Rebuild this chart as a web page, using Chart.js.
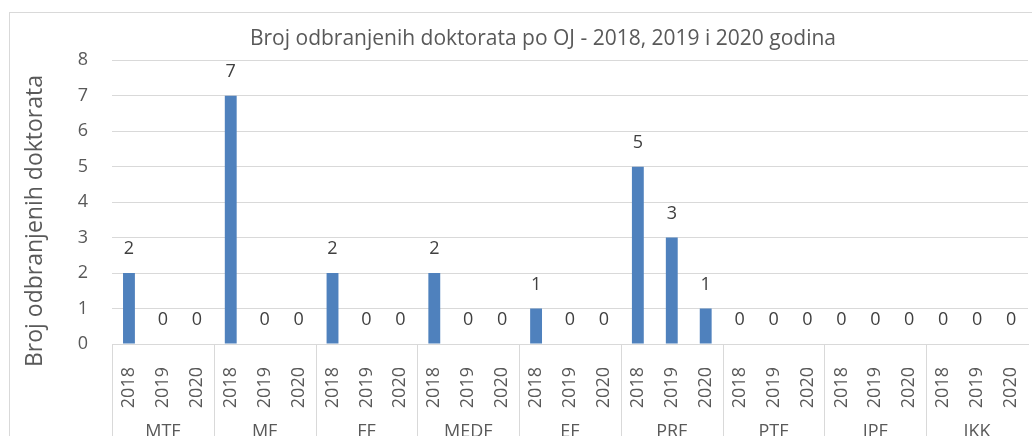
<!DOCTYPE html>
<html>
<head>
<meta charset="utf-8">
<script src="https://cdn.jsdelivr.net/npm/chart.js@4/dist/chart.umd.min.js"></script>
<style>
  html, body { margin: 0; padding: 0; background: #fff; }
  #wrap { position: relative; width: 1032px; height: 436px; overflow: hidden; }
  #frame { position: absolute; left: 9px; top: 12px; width: 1100px; height: 500px; border: 1px solid #d9d9d9; }
  canvas { position: absolute; left: 0; top: 0; }
</style>
</head>
<body>
<div id="wrap">
  <div id="frame"></div>
  <canvas id="chart" width="1086" height="436"></canvas>
</div>
<script>
// faculties and years
const groups = ["MTF", "MF", "FF", "MEDF", "EF", "PRF", "PTF", "IPF", "IKK"];
const years = ["2018", "2019", "2020"];

// defended doctorates per faculty, by year
const values2018 = [2, 7, 2, 2, 1, 5, 0, 0, 0];
const values2019 = [0, 0, 0, 0, 0, 3, 0, 0, 0];
const values2020 = [0, 0, 0, 0, 0, 1, 0, 0, 0];

const yMin = 0;
const yMax = 8;
const yStep = 1;

const byYear = [values2018, values2019, values2020];
const labels = groups.flatMap(() => years);
const values = groups.flatMap((g, gi) => byYear.map(v => v[gi]));

const FONT = "'Open Sans', sans-serif";
const TEXT = "#595959";
const GRID = "#d9d9d9";
const Y_TITLE = "Broj odbranjenih doktorata";

// value labels above each bar
const valueLabels = {
  id: "valueLabels",
  afterDatasetsDraw(chart) {
    const ctx = chart.ctx;
    const meta = chart.getDatasetMeta(0);
    ctx.save();
    ctx.font = "18px " + FONT;
    ctx.fillStyle = "#404040";
    ctx.textAlign = "center";
    ctx.textBaseline = "alphabetic";
    meta.data.forEach((bar, i) => {
      ctx.fillText(String(values[i]), bar.x, bar.y - 19);
    });
    ctx.restore();
  }
};

// second level of the category axis: faculty names and separators,
// plus the y axis title (Excel centres it a bit lower than the plot)
const groupAxis = {
  id: "groupAxis",
  afterDraw(chart) {
    const ctx = chart.ctx;
    const x = chart.scales.x;
    const area = chart.chartArea;
    const n = years.length;
    ctx.save();
    ctx.strokeStyle = GRID;
    ctx.lineWidth = 1;
    groups.forEach((g, gi) => {
      const first = gi * n;
      const last = first + n - 1;
      const left = gi === 0 ? area.left
        : (x.getPixelForValue(first - 1) + x.getPixelForValue(first)) / 2;
      ctx.beginPath();
      ctx.moveTo(Math.round(left) + 0.5, area.bottom);
      ctx.lineTo(Math.round(left) + 0.5, chart.height);
      ctx.stroke();
      const mid = (x.getPixelForValue(first) + x.getPixelForValue(last)) / 2;
      ctx.font = "18px " + FONT;
      ctx.fillStyle = TEXT;
      ctx.textAlign = "center";
      ctx.textBaseline = "middle";
      ctx.fillText(g, mid, 432);
    });

    ctx.translate(35, 221);
    ctx.rotate(-Math.PI / 2);
    ctx.font = "23px " + FONT;
    ctx.fillStyle = TEXT;
    ctx.textAlign = "center";
    ctx.textBaseline = "middle";
    ctx.fillText(Y_TITLE, 0, 0);
    ctx.restore();
  }
};

new Chart(document.getElementById("chart"), {
  type: "bar",
  data: {
    labels: labels,
    datasets: [{
      data: values,
      backgroundColor: "#4f81bd",
      categoryPercentage: 1,
      barPercentage: 0.35
    }]
  },
  options: {
    responsive: false,
    animation: false,
    layout: { padding: 0 },
    plugins: {
      legend: { display: false },
      tooltip: { enabled: false },
      title: {
        display: true,
        text: "Broj odbranjenih doktorata po OJ - 2018, 2019 i 2020 godina",
        color: TEXT,
        font: { family: FONT, size: 21, weight: "normal" },
        padding: { top: 26, bottom: 9 }
      }
    },
    scales: {
      x: {
        grid: { display: false },
        border: { display: true, color: GRID },
        ticks: {
          color: TEXT,
          font: { family: FONT, size: 18 },
          minRotation: 90,
          maxRotation: 90,
          autoSkip: false,
          padding: 15
        },
        afterFit(scale) { scale.height = 92; }
      },
      y: {
        min: yMin,
        max: yMax,
        grid: { color: GRID, drawTicks: false },
        border: { display: false },
        ticks: {
          stepSize: yStep,
          color: TEXT,
          font: { family: FONT, size: 18 },
          padding: 24
        },
        afterFit(scale) { scale.width = 112; }
      },
      // empty right margin (the chart frame runs past the window edge)
      yRight: {
        position: "right",
        min: yMin,
        max: yMax,
        grid: { display: false },
        border: { display: false },
        ticks: { display: false },
        afterFit(scale) { scale.width = 58; }
      }
    }
  },
  plugins: [valueLabels, groupAxis]
});
</script>
</body>
</html>
